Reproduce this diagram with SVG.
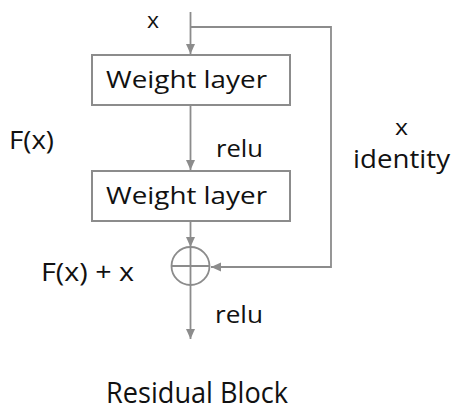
<svg xmlns="http://www.w3.org/2000/svg" width="461" height="413" viewBox="0 0 461 413">
<style>
.t{font-family:"Open Sans","Liberation Sans",sans-serif;fill:#111}
.box{fill:#fff;stroke:#8c8c8c;stroke-width:2}
.ln{fill:none;stroke:#8c8c8c;stroke-width:1.8}
</style>
<defs>
<marker id="ah" markerWidth="10" markerHeight="10" refX="10" refY="5" orient="auto" markerUnits="userSpaceOnUse">
<path d="M0,0.5 L10,5 L0,9.5 Z" fill="#8c8c8c"/>
</marker>
</defs>
<rect width="461" height="413" fill="#fff"/>
<g id="connectors">
<path class="ln" d="M190.5,12 V54" marker-end="url(#ah)"/>
<path class="ln" d="M190.5,27 H331 V267 H211" marker-end="url(#ah)"/>
<path class="ln" d="M190.5,106 V170" marker-end="url(#ah)"/>
<path class="ln" d="M190.5,222 V247" marker-end="url(#ah)"/>
<path class="ln" d="M190.5,285 V339" marker-end="url(#ah)"/>
</g>
<g id="layer1">
<rect class="box" x="92" y="55" width="198" height="50"/>
<text class="t" x="106" y="88" font-size="23" textLength="161" lengthAdjust="spacingAndGlyphs">Weight layer</text>
</g>
<g id="layer2">
<rect class="box" x="92" y="171" width="198" height="50"/>
<text class="t" x="106" y="204" font-size="23" textLength="161" lengthAdjust="spacingAndGlyphs">Weight layer</text>
</g>
<g id="add">
<circle class="ln" cx="190.5" cy="266" r="19"/>
<path class="ln" d="M171.5,266 H209.5 M190.5,247 V285"/>
</g>
<g id="labels">
<text class="t" x="147" y="28" font-size="22" textLength="12" lengthAdjust="spacingAndGlyphs">x</text>
<text class="t" x="9" y="149" font-size="25" textLength="45" lengthAdjust="spacingAndGlyphs">F(x)</text>
<text class="t" x="216" y="157" font-size="24" textLength="47" lengthAdjust="spacingAndGlyphs">relu</text>
<text class="t" x="395" y="135" font-size="22" textLength="13" lengthAdjust="spacingAndGlyphs">x</text>
<text class="t" x="353" y="168" font-size="25" textLength="97" lengthAdjust="spacingAndGlyphs">identity</text>
<text class="t" x="41" y="281" font-size="25" textLength="93" lengthAdjust="spacingAndGlyphs">F(x) + x</text>
<text class="t" x="215" y="323" font-size="24" textLength="48" lengthAdjust="spacingAndGlyphs">relu</text>
<text class="t" x="106" y="403" font-size="29" textLength="182" lengthAdjust="spacingAndGlyphs">Residual Block</text>
</g>
</svg>
